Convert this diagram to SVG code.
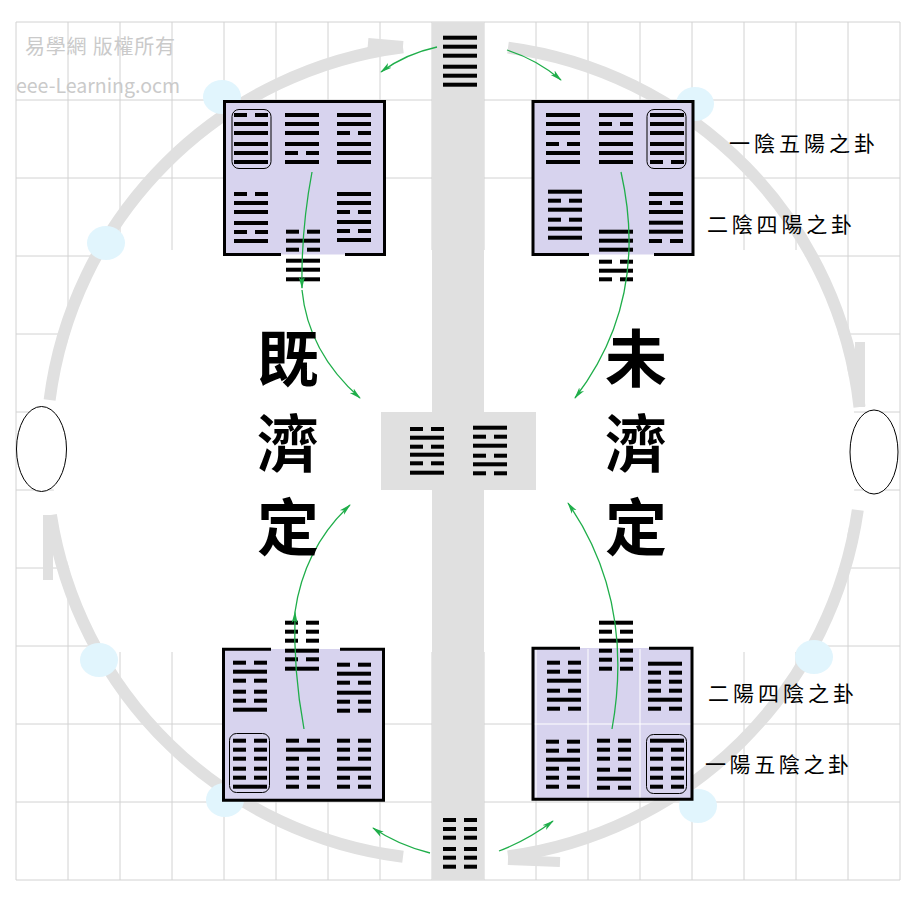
<svg xmlns="http://www.w3.org/2000/svg" xmlns:xlink="http://www.w3.org/1999/xlink" width="924" height="902" viewBox="0 0 924 902">
<style>
.grid{stroke:#d2d2d2;stroke-width:1;fill:none}
.box{fill:#d7d3ee}
.border{fill:none;stroke:#000;stroke-width:3}
.ring{fill:none;stroke:#000;stroke-width:1}
.arc{fill:none;stroke:#e0e0e0;stroke-width:12}
.barb{fill:none;stroke:#e0e0e0;stroke-width:10}
.blue{fill:#e1f5fd}
.g{fill:none;stroke:#1fae4a;stroke-width:1.3}
.big{font-family:"Noto Sans CJK TC","Noto Sans CJK SC",sans-serif;font-weight:700;font-size:62px;fill:#000}
.lbl{font-family:"Noto Sans CJK TC","Noto Sans CJK SC",serif;font-size:21px;fill:#000}
.wm{font-family:"Noto Sans CJK TC","Open Sans",sans-serif;font-size:20px;fill:#cacaca}
</style>
<defs>
<rect id="Y" width="34" height="4"/>
<g id="N"><rect width="13" height="4"/><rect x="21" width="13" height="4"/></g>
<marker id="ah" markerWidth="12" markerHeight="8" refX="11" refY="4" orient="auto" markerUnits="userSpaceOnUse">
<path d="M0,1 L12,4 L0,7 L3,4 Z" fill="#1fae4a"/>
</marker>
<clipPath id="inner"><circle cx="454" cy="452" r="402"/></clipPath>
</defs>
<rect width="924" height="902" fill="#fff"/>
<g id="grid">
<path class="grid" d="M16,22V880M68,22V880M120,22V880M172,22V880M224,22V880M276,22V880M328,22V880M380,22V880M432,22V880M484,22V880M536,22V880M588,22V880M640,22V880M692,22V880M744,22V880M796,22V880M848,22V880M900,22V880"/>
<path class="grid" d="M16,22H900M16,100H900M16,178H900M16,256H900M16,334H900M16,412H900M16,490H900M16,568H900M16,646H900M16,724H900M16,802H900M16,880H900"/>
<rect x="0" y="250" width="924" height="402" fill="#fff" clip-path="url(#inner)"/>
</g>
<rect x="432" y="22" width="52" height="858" fill="#e0e0e0"/>
<rect x="381" y="412" width="155" height="78" fill="#e0e0e0"/>
<g id="ring-arrows">
<path class="arc" d="M49.6,400 A408,408 0 0 1 403,47.2"/>
<path class="barb" d="M403,46 L368,43"/>
<path class="arc" d="M508,47.6 A408,408 0 0 1 859.5,407"/>
<path class="barb" d="M860,407 L860,342"/>
<path class="arc" d="M857.8,510 A408,408 0 0 1 508,856.4"/>
<path class="barb" d="M508,860 L560,862"/>
<path class="arc" d="M403,856.8 A408,408 0 0 1 50.9,515"/>
<path class="barb" d="M48,515 L48,580"/>
</g>
<g id="blue-dots">
<ellipse class="blue" cx="222" cy="97" rx="19" ry="17"/>
<ellipse class="blue" cx="106" cy="243" rx="19" ry="17"/>
<ellipse class="blue" cx="695" cy="104" rx="19" ry="17"/>
<ellipse class="blue" cx="814" cy="657" rx="19" ry="17"/>
<ellipse class="blue" cx="99" cy="660" rx="19" ry="17"/>
<ellipse class="blue" cx="225" cy="800" rx="19" ry="17"/>
<ellipse class="blue" cx="698" cy="806" rx="19" ry="17"/>
</g>
<g id="side-ellipses">
<ellipse cx="41.5" cy="449" rx="25" ry="42.5" fill="#fff" stroke="#000" stroke-width="1"/>
<ellipse cx="874" cy="452" rx="24" ry="42" fill="#fff" stroke="#000" stroke-width="1"/>
</g>
<g id="box-tl">
<rect class="box" x="224.5" y="101.5" width="160" height="153"/>
<path class="border" d="M281,254.5H224.5V101.5H384.5V254.5H345"/>
<rect class="ring" x="232" y="109.5" width="39" height="59" rx="7"/>
<g transform="translate(234,113)"><use href="#N"/><use href="#Y" y="9"/><use href="#Y" y="18"/><use href="#Y" y="29"/><use href="#Y" y="38"/><use href="#Y" y="47"/></g>
<g transform="translate(285,113)"><use href="#Y"/><use href="#Y" y="9"/><use href="#Y" y="18"/><use href="#Y" y="29"/><use href="#N" y="38"/><use href="#Y" y="47"/></g>
<g transform="translate(337,113)"><use href="#Y"/><use href="#Y" y="9"/><use href="#N" y="18"/><use href="#Y" y="29"/><use href="#Y" y="38"/><use href="#Y" y="47"/></g>
<g transform="translate(234,192)"><use href="#N"/><use href="#Y" y="9"/><use href="#Y" y="18"/><use href="#Y" y="29"/><use href="#N" y="38"/><use href="#Y" y="47"/></g>
<g transform="translate(337,192)"><use href="#Y"/><use href="#Y" y="9"/><use href="#N" y="18"/><use href="#Y" y="28"/><use href="#N" y="37"/><use href="#Y" y="46"/></g>
<g transform="translate(286,229.7)"><use href="#N"/><use href="#Y" y="9"/><use href="#N" y="18"/><use href="#Y" y="29"/><use href="#Y" y="38"/><use href="#Y" y="47.6"/></g>
</g>
<g id="box-tr">
<rect class="box" x="533" y="101.5" width="160" height="153"/>
<path class="border" d="M589,254.5H533V101.5H693V254.5H654"/>
<rect class="ring" x="647" y="109.5" width="39" height="59" rx="7"/>
<g transform="translate(546,113)"><use href="#Y"/><use href="#Y" y="9"/><use href="#Y" y="18"/><use href="#N" y="29"/><use href="#Y" y="38"/><use href="#Y" y="47"/></g>
<g transform="translate(599,113)"><use href="#Y"/><use href="#N" y="9"/><use href="#Y" y="18"/><use href="#Y" y="29"/><use href="#Y" y="38"/><use href="#Y" y="47"/></g>
<g transform="translate(650,113)"><use href="#Y"/><use href="#Y" y="9"/><use href="#Y" y="18"/><use href="#Y" y="29"/><use href="#Y" y="38"/><use href="#N" y="47"/></g>
<g transform="translate(548,189.7)"><use href="#Y"/><use href="#N" y="9"/><use href="#Y" y="18"/><use href="#N" y="28"/><use href="#Y" y="37"/><use href="#Y" y="46"/></g>
<g transform="translate(649,192)"><use href="#Y"/><use href="#N" y="9"/><use href="#Y" y="18"/><use href="#Y" y="28.7"/><use href="#Y" y="37.7"/><use href="#N" y="47"/></g>
<g transform="translate(599,229.7)"><use href="#Y"/><use href="#Y" y="9"/><use href="#Y" y="18"/><use href="#N" y="30"/><use href="#Y" y="39"/><use href="#N" y="47.6"/></g>
</g>
<g id="box-bl">
<rect class="box" x="223.5" y="649" width="160" height="151"/>
<path class="border" d="M271,649.2H223.5V800.2H383.5V649.2H340"/>
<rect class="ring" x="229.5" y="733.5" width="40" height="59" rx="7"/>
<g transform="translate(285,620.7)"><use href="#N"/><use href="#N" y="9"/><use href="#N" y="18"/><use href="#Y" y="28"/><use href="#N" y="36.6"/><use href="#Y" y="46"/></g>
<g transform="translate(233,660.7)"><use href="#N"/><use href="#Y" y="9"/><use href="#N" y="18"/><use href="#N" y="29"/><use href="#N" y="38"/><use href="#Y" y="47"/></g>
<g transform="translate(337,662.7)"><use href="#N"/><use href="#Y" y="9"/><use href="#N" y="18"/><use href="#Y" y="28"/><use href="#N" y="37"/><use href="#N" y="46"/></g>
<g transform="translate(233,738.7)"><use href="#N"/><use href="#N" y="9"/><use href="#N" y="18"/><use href="#N" y="28"/><use href="#N" y="37"/><use href="#Y" y="46"/></g>
<g transform="translate(286,738.7)"><use href="#N"/><use href="#Y" y="9"/><use href="#N" y="18"/><use href="#N" y="28"/><use href="#N" y="37"/><use href="#N" y="46"/></g>
<g transform="translate(337,738.7)"><use href="#N"/><use href="#N" y="9"/><use href="#N" y="18"/><use href="#Y" y="28"/><use href="#N" y="37"/><use href="#N" y="46"/></g>
</g>
<g id="box-br">
<rect class="box" x="533" y="648" width="159" height="151"/>
<path d="M536,649V799M588,649V799M640,649V799M534,724H691" stroke="#fff" stroke-width="1" fill="none"/>
<path class="border" d="M580,648.2H533V799.2H692V648.2H649"/>
<rect class="ring" x="646.5" y="734.5" width="40" height="59" rx="7"/>
<g transform="translate(599,620.7)"><use href="#Y"/><use href="#N" y="9"/><use href="#Y" y="18"/><use href="#N" y="28"/><use href="#N" y="37"/><use href="#N" y="46"/></g>
<g transform="translate(547,660.7)"><use href="#N"/><use href="#N" y="9"/><use href="#Y" y="18"/><use href="#N" y="28"/><use href="#Y" y="37"/><use href="#N" y="46"/></g>
<g transform="translate(648,661.7)"><use href="#Y"/><use href="#N" y="9"/><use href="#N" y="18"/><use href="#N" y="27"/><use href="#Y" y="36"/><use href="#N" y="45"/></g>
<g transform="translate(546,739.7)"><use href="#N"/><use href="#N" y="9"/><use href="#Y" y="18"/><use href="#N" y="27"/><use href="#N" y="36"/><use href="#N" y="45"/></g>
<g transform="translate(597,738.7)"><use href="#N"/><use href="#N" y="9"/><use href="#N" y="18"/><use href="#N" y="29"/><use href="#Y" y="38"/><use href="#N" y="47"/></g>
<g transform="translate(650,738.7)"><use href="#Y"/><use href="#N" y="9"/><use href="#N" y="18"/><use href="#N" y="28"/><use href="#N" y="37"/><use href="#N" y="46"/></g>
</g>
<g id="hex-top" transform="translate(443,35.7)"><use href="#Y"/><use href="#Y" y="9"/><use href="#Y" y="18"/><use href="#Y" y="29"/><use href="#Y" y="38"/><use href="#Y" y="47"/></g>
<g id="hex-bottom" transform="translate(443,818)"><use href="#N"/><use href="#N" y="9"/><use href="#N" y="17.7"/><use href="#N" y="29"/><use href="#N" y="37.7"/><use href="#N" y="46.7"/></g>
<g id="hex-center-l" transform="translate(410,427)"><use href="#N"/><use href="#Y" y="8.7"/><use href="#N" y="17.7"/><use href="#Y" y="25.7"/><use href="#N" y="34.3"/><use href="#Y" y="43.7"/></g>
<g id="hex-center-r" transform="translate(473,425.7)"><use href="#Y"/><use href="#N" y="9"/><use href="#Y" y="18"/><use href="#N" y="28"/><use href="#Y" y="36.6"/><use href="#N" y="45.6"/></g>
<g id="connectors">
<path class="g" marker-end="url(#ah)" d="M437,47 Q405,54 381,72"/>
<path class="g" marker-end="url(#ah)" d="M507,50 Q538,60 561,80"/>
<path class="g" marker-end="url(#ah)" d="M430,853 Q398,845 373,828"/>
<path class="g" marker-end="url(#ah)" d="M499,851 Q528,840 553,821"/>
<path class="g" marker-end="url(#ah)" d="M312,172 Q301,230 302,288"/>
<path class="g" marker-end="url(#ah)" d="M302,290 Q308,352 360,398"/>
<path class="g" marker-end="url(#ah)" d="M621,172 Q650,300 575,398"/>
<path class="g" marker-end="url(#ah)" d="M304,729 Q293,670 295,612"/>
<path class="g" marker-end="url(#ah)" d="M295,612 Q304,548 350,505"/>
<path class="g" marker-end="url(#ah)" d="M612,729 Q635,600 568,503"/>
</g>
<g id="titles">
<text class="big" x="288" y="382" text-anchor="middle">既</text>
<text class="big" x="288" y="467" text-anchor="middle">濟</text>
<text class="big" x="288" y="551" text-anchor="middle">定</text>
<text class="big" x="636" y="382" text-anchor="middle">未</text>
<text class="big" x="636" y="467" text-anchor="middle">濟</text>
<text class="big" x="636" y="551" text-anchor="middle">定</text>
</g>
<g id="labels">
<text class="lbl" x="729" y="151" textLength="146" lengthAdjust="spacing">一陰五陽之卦</text>
<text class="lbl" x="707" y="232" textLength="145" lengthAdjust="spacing">二陰四陽之卦</text>
<text class="lbl" x="708" y="701" textLength="146" lengthAdjust="spacing">二陽四陰之卦</text>
<text class="lbl" x="705" y="772" textLength="144" lengthAdjust="spacing">一陽五陰之卦</text>
</g>
<g id="watermark">
<text class="wm" x="25" y="54" textLength="150" lengthAdjust="spacing">易學網 版權所有</text>
<text class="wm" x="16" y="93" font-family="Open Sans" textLength="164" lengthAdjust="spacingAndGlyphs">eee-Learning.ocm</text>
</g>
</svg>
